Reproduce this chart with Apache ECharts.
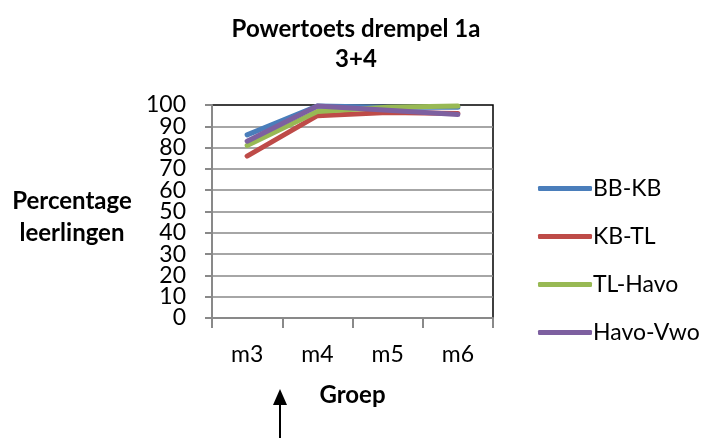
<!DOCTYPE html>
<html>
<head>
<meta charset="utf-8">
<script src="https://cdn.jsdelivr.net/npm/echarts@6/dist/echarts.min.js"></script>
<style>html,body{margin:0;padding:0;background:#fff}#c{width:702px;height:438px}</style>
</head>
<body>
<div id="c"></div>
<script>
var categories = ['m3', 'm4', 'm5', 'm6'];
var seriesNames = ['BB-KB', 'KB-TL', 'TL-Havo', 'Havo-Vwo'];
var bbKb = [86, 99.5, 99, 99];
var kbTl = [76, 95, 96.5, 96];
var tlHavo = [81, 97, 99, 99.5];
var havoVwo = [83, 99.5, 97.5, 95.5];
var yTicks = [0, 10, 20, 30, 40, 50, 60, 70, 80, 90, 100];
var colors = ['#4a7ebb', '#be4b48', '#98b954', '#7d60a0'];

var font = 'Lato, "Open Sans", sans-serif';
var chart = echarts.init(document.getElementById('c'), null, {renderer: 'canvas'});
var values = [bbKb, kbTl, tlHavo, havoVwo];
var yMin = yTicks[0], yMax = yTicks[yTicks.length - 1], yStep = yTicks[1] - yTicks[0];
function labelEven(v) { return (Math.round(v / yStep) % 2 === 0) ? String(v) : ''; }
function labelOdd(v) { return (Math.round(v / yStep) % 2 === 1) ? String(v) : ''; }
var labelBase = {fontFamily: font, fontSize: 23, color: '#000', margin: 26, lineHeight: 20, hideOverlap: false};
chart.setOption({
  animation: false,
  textStyle: {fontFamily: font},
  title: [{
    text: 'Powertoets drempel 1a\n3+4',
    left: 351, top: 9, textAlign: 'center',
    textStyle: {fontFamily: font, fontSize: 24, fontWeight: 'bold', color: '#000', lineHeight: 30}
  }, {
    text: 'Percentage\nleerlingen',
    left: 67, top: 180, textAlign: 'center',
    textStyle: {fontFamily: font, fontSize: 24, fontWeight: 'bold', color: '#000', lineHeight: 32}
  }],
  grid: {left: 212, top: 105, right: 209, bottom: 120, show: true, borderColor: '#000', borderWidth: 1.5, backgroundColor: 'transparent'},
  legend: {
    orient: 'vertical', left: 533, top: 172,
    itemWidth: 54, itemHeight: 5, itemGap: 25,
    icon: 'roundRect',
    data: seriesNames.map(function (n, i) { return {name: n, itemStyle: {color: colors[i]}}; }),
    textStyle: {fontFamily: font, fontSize: 23, color: '#000', lineHeight: 23, padding: [0, 0, 0, -4]}
  },
  xAxis: {
    type: 'category', data: categories, boundaryGap: true,
    name: 'Groep', nameLocation: 'middle', nameGap: 65,
    nameTextStyle: {fontFamily: font, fontSize: 24, fontWeight: 'bold', color: '#000'},
    axisLine: {lineStyle: {color: '#898989', width: 2}},
    axisTick: {show: true, length: 10, alignWithLabel: false, lineStyle: {color: '#898989', width: 2}},
    axisLabel: {fontFamily: font, fontSize: 23, color: '#000', margin: 25, lineHeight: 23},
    splitLine: {show: false}
  },
  yAxis: [{
    type: 'value', min: yMin, max: yMax, interval: yStep, position: 'left',
    axisLine: {show: true, lineStyle: {color: '#898989', width: 2}},
    axisTick: {show: true, length: 7, lineStyle: {color: '#898989', width: 2}},
    axisLabel: Object.assign({formatter: labelEven, showMinLabel: true, showMaxLabel: true}, labelBase),
    splitLine: {show: true, showMaxLine: false, lineStyle: {color: '#898989', width: 1.5}}
  }, {
    type: 'value', min: yMin, max: yMax, interval: yStep, position: 'left', offset: 0,
    axisLine: {show: false}, axisTick: {show: false}, splitLine: {show: false},
    axisLabel: Object.assign({formatter: labelOdd, showMinLabel: false, showMaxLabel: false}, labelBase)
  }],
  series: seriesNames.map(function (n, i) {
    return {
      name: n, type: 'line', data: values[i], symbol: 'none', yAxisIndex: 0,
      lineStyle: {color: colors[i], width: 5, cap: 'round', join: 'round'}, itemStyle: {color: colors[i]}, z: 3 + i
    };
  }),
  graphic: [
    {type: 'line', shape: {x1: 280, y1: 404, x2: 280, y2: 438}, style: {stroke: '#000', lineWidth: 2}},
    {type: 'polygon', shape: {points: [[280, 389], [273, 405], [287, 405]]}, style: {fill: '#000'}}
  ]
});
</script>
</body>
</html>
